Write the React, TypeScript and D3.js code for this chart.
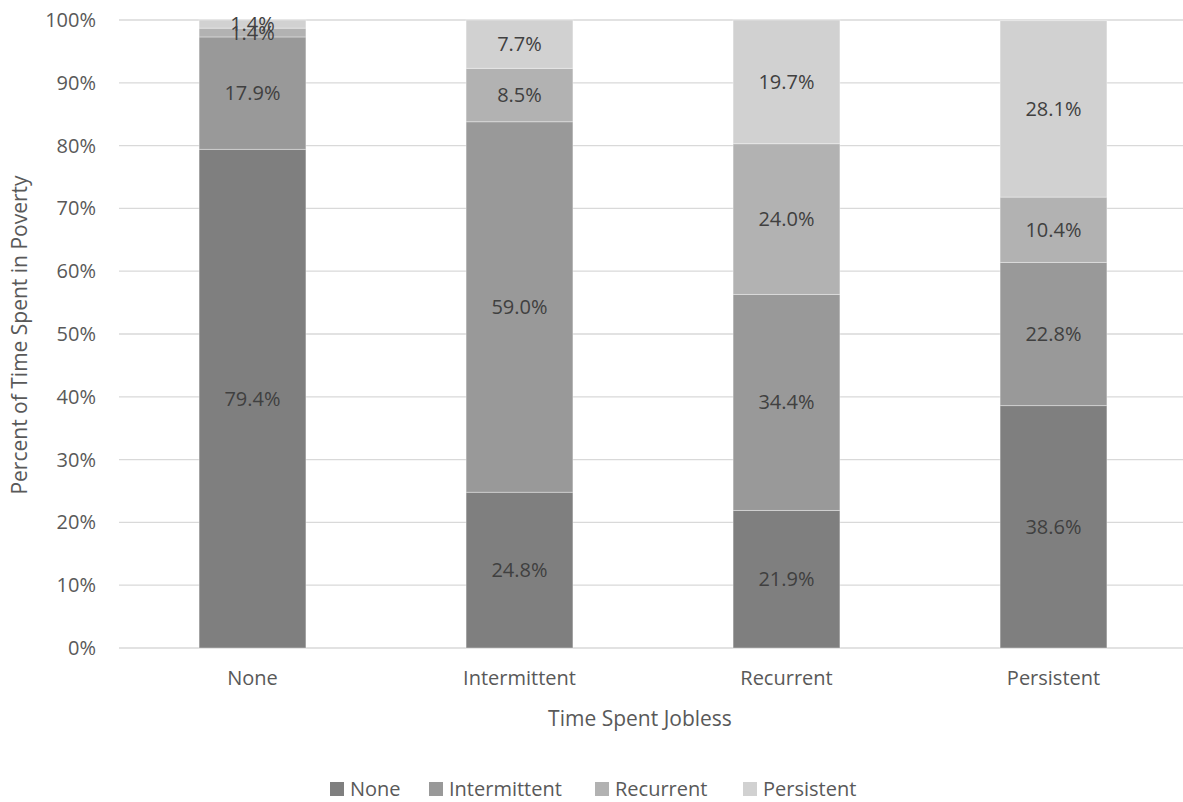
import React from "react";
import * as d3 from "d3";

const categories = ["None", "Intermittent", "Recurrent", "Persistent"];
const seriesNames = ["None", "Intermittent", "Recurrent", "Persistent"];
const noneVals = [79.4, 24.8, 21.9, 38.6];
const intermittentVals = [17.9, 59.0, 34.4, 22.8];
const recurrentVals = [1.4, 8.5, 24.0, 10.4];
const persistentVals = [1.4, 7.7, 19.7, 28.1];
const yTicks = [0, 10, 20, 30, 40, 50, 60, 70, 80, 90, 100];
const colors = ["#7f7f7f", "#999999", "#b2b2b2", "#d1d1d1"];

export default function App() {
  const W = 1183, H = 802;
  const left = 119, right = 1187, top = 20, bottom = 648;
  const x = d3.scaleBand().domain(categories).range([left, right]).paddingInner(0.6).paddingOuter(0.3);
  const y = d3.scaleLinear().domain([0, 100]).range([bottom, top]);
  const series = [noneVals, intermittentVals, recurrentVals, persistentVals];
  const font = "'Open Sans', 'Noto Sans', sans-serif";
  const txt = "#595959";

  const rects: any[] = [];
  const labels: any[] = [];
  categories.forEach((c, ci) => {
    let acc = 0;
    series.forEach((s, si) => {
      const v = s[ci];
      const y0 = acc, y1 = Math.min(100, acc + v);
      acc += v;
      rects.push(
        <rect key={`r${ci}-${si}`} x={x(c)} width={x.bandwidth()} y={y(y1)} height={y(y0) - y(y1)} fill={colors[si]}
          stroke="#ffffff" strokeOpacity={0.35} strokeWidth={1} />
      );
      labels.push(
        <text key={`l${ci}-${si}`} x={x(c)! + x.bandwidth() / 2} y={y((y0 + y1) / 2)} dy="0.35em"
          textAnchor="middle" fontSize={20} fill="#404040" fontFamily={font}>{v.toFixed(1)}%</text>
      );
    });
  });

  const legendX = [330, 429, 595, 743];
  return (
    <svg width={W} height={H} style={{ position: "absolute", left: 0, top: 0 }}>
      <rect width={W} height={H} fill="#fff" />
      {yTicks.map(t => (
        <g key={t}>
          <line x1={left} x2={right} y1={y(t)} y2={y(t)} stroke="#d9d9d9" strokeWidth={1.3} />
          <text x={96} y={y(t)} dy="0.35em" textAnchor="end" fontSize={20} fill={txt} fontFamily={font}>{t}%</text>
        </g>
      ))}
      {rects}
      {labels}
      {categories.map(c => (
        <text key={c} x={x(c)! + x.bandwidth() / 2} y={678} dy="0.35em" textAnchor="middle" fontSize={20} fill={txt} fontFamily={font}>{c}</text>
      ))}
      <text x={640} y={719} dy="0.35em" textAnchor="middle" fontSize={21} fill={txt} fontFamily={font}>Time Spent Jobless</text>
      <text transform={`translate(20,335) rotate(-90)`} dy="0.35em" textAnchor="middle" fontSize={21} fill={txt} fontFamily={font}>Percent of Time Spent in Poverty</text>
      {seriesNames.map((n, i) => (
        <g key={n}>
          <rect x={legendX[i]} y={782} width={14} height={14} fill={colors[i]} />
          <text x={legendX[i] + 20} y={789} dy="0.35em" fontSize={20} fill={txt} fontFamily={font}>{n}</text>
        </g>
      ))}
    </svg>
  );
}
